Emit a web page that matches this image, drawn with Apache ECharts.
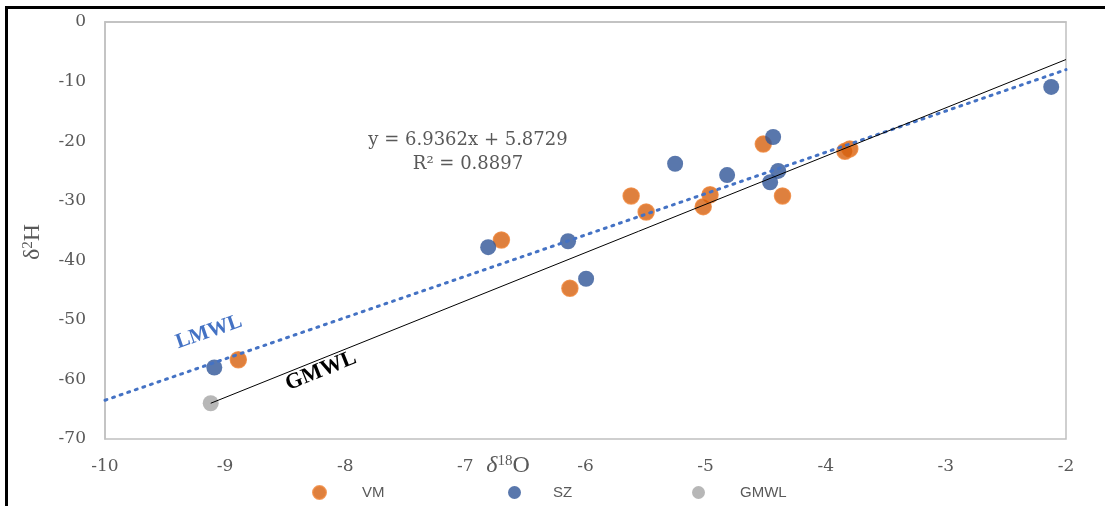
<!DOCTYPE html>
<html>
<head>
<meta charset="utf-8">
<script src="https://cdn.jsdelivr.net/npm/echarts@6/dist/echarts.min.js"></script>
<style>html,body{margin:0;padding:0;background:#fff}#c{width:1105px;height:506px}</style>
</head>
<body>
<div id="c"></div>
<script>
// ---- data ----
var vmX = [-8.89, -6.70, -5.62, -5.495, -6.13, -4.963, -5.02, -4.52, -4.36, -3.80, -3.84];
var vmY = [-56.7, -36.6, -29.2, -31.9, -44.7, -29.0, -31.0, -20.5, -29.2, -21.3, -21.7];
var szX = [-9.09, -6.81, -6.145, -5.995, -5.254, -4.821, -4.438, -4.463, -4.396, -2.123];
var szY = [-58.0, -37.8, -36.8, -43.1, -23.8, -25.7, -19.3, -26.9, -25.0, -10.9];
var gmwlPtX = [-9.12];
var gmwlPtY = [-64.0];
var gmwlLineX = [-9.12, -2];
var gmwlLineY = [-64.0, -6.3];
var lmwlX = [-10, -2];
var lmwlY = [-63.49, -8.0];
var xTicks = [-10, -9, -8, -7, -6, -5, -4, -3, -2];
var yTicks = [0, -10, -20, -30, -40, -50, -60, -70];

function pairs(xs, ys) { return xs.map(function (x, i) { return [x, ys[i]]; }); }

var serif = '"Liberation Serif", serif';
var dserif = '"DejaVu Serif", serif';
var sans = '"Liberation Sans", "DejaVu Sans", sans-serif';
var grey = '#595959';

var chart = echarts.init(document.getElementById('c'));
var legendBase = {
  bottom: 1, itemWidth: 13, itemHeight: 13, icon: 'circle',
  textStyle: { fontFamily: sans, fontSize: 15, color: grey }
};
function lg(left, name, pad) {
  return Object.assign({}, legendBase, { left: left, data: [name],
    textStyle: Object.assign({}, legendBase.textStyle, { padding: [0, 0, 0, pad] }) });
}
chart.setOption({
  animation: false,
  grid: { left: 105, top: 22, right: 39, bottom: 67, show: true, borderColor: '#c0c0c0', borderWidth: 1.5 },
  xAxis: {
    type: 'value', min: -10, max: -2, interval: 1,
    axisLine: { show: true, lineStyle: { color: '#c0c0c0', width: 1.5 } },
    axisTick: { show: false }, splitLine: { show: false },
    axisLabel: { color: grey, fontFamily: dserif, fontSize: 17, margin: 19 }
  },
  yAxis: {
    type: 'value', min: -70, max: 0, interval: 10,
    axisLine: { show: true, lineStyle: { color: '#c0c0c0', width: 1.5 } },
    axisTick: { show: false }, splitLine: { show: false },
    axisLabel: { color: grey, fontFamily: dserif, fontSize: 17, margin: 19 }
  },
  legend: [ lg(307, 'VM', 31), lg(503, 'SZ', 27), lg(687, 'GMWL', 30) ],
  series: [
    { name: 'LMWL line', type: 'line', data: pairs(lmwlX, lmwlY), symbol: 'none', z: 3,
      lineStyle: { color: '#4472C4', width: 3, type: [2, 6], cap: 'round' } },
    { name: 'GMWL line', type: 'line', data: pairs(gmwlLineX, gmwlLineY), symbol: 'none', z: 3,
      lineStyle: { color: '#000', width: 1 } },
    { name: 'VM', type: 'scatter', data: pairs(vmX, vmY), symbolSize: 16, z: 2,
      itemStyle: { color: '#D6600E', borderColor: '#EC8236', borderWidth: 1.5 } },
    { name: 'SZ', type: 'scatter', data: pairs(szX, szY), symbolSize: 16, z: 2,
      itemStyle: { color: '#2F5597' } },
    { name: 'GMWL', type: 'scatter', data: pairs(gmwlPtX, gmwlPtY), symbolSize: 16, z: 2,
      itemStyle: { color: '#A5A5A5' } }
  ],
  graphic: [
    { type: 'rect', left: 4, top: 5, shape: { width: 1200, height: 600 }, silent: true,
      style: { fill: 'none', stroke: '#000', lineWidth: 3 } },
    { type: 'text', x: 468, y: 140, style: { text: 'y = 6.9362x + 5.8729', font: '18px ' + dserif, fill: grey, align: 'center', verticalAlign: 'middle' } },
    { type: 'text', x: 468, y: 164, style: { text: 'R² = 0.8897', font: '18px ' + dserif, fill: grey, align: 'center', verticalAlign: 'middle' } },
    { type: 'text', x: 209, y: 332, rotation: 19 * Math.PI / 180, style: { text: 'LMWL', font: 'bold 21px ' + serif, fill: '#4472C4', align: 'center', verticalAlign: 'middle' } },
    { type: 'text', x: 321, y: 371, rotation: 22 * Math.PI / 180, style: { text: 'GMWL', font: 'bold 22px ' + serif, fill: '#000', align: 'center', verticalAlign: 'middle' } },
    { type: 'text', x: 33, y: 242, rotation: Math.PI / 2, style: {
        text: '{a|δ}{s|2}{a|H}', align: 'center', verticalAlign: 'middle',
        rich: { a: { font: '24px ' + serif, fill: grey }, s: { font: '15px ' + serif, fill: grey, padding: [0, 0, 9, 0] } } } },
    { type: 'text', x: 508, y: 466, style: {
        text: '{a|δ}{s|18}{b|O}', align: 'center', verticalAlign: 'middle',
        rich: { a: { font: 'italic 24px ' + serif, fill: grey }, b: { font: '24px ' + serif, fill: grey }, s: { font: '15px ' + serif, fill: grey, padding: [0, 0, 9, 0] } } } }
  ]
});
</script>
</body>
</html>
